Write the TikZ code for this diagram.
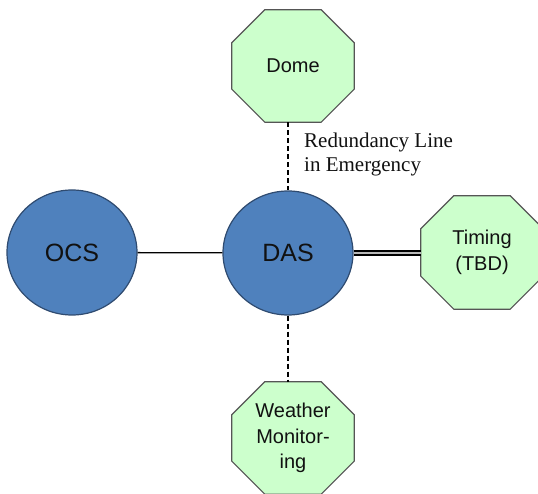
\documentclass[tikz,border=0pt]{standalone}
\usepackage{fontspec}
\setmainfont{Liberation Sans}
\newfontfamily\notefont{Liberation Serif}
\usetikzlibrary{calc,backgrounds,shapes.geometric}

\definecolor{sysblue}{HTML}{4F81BD}
\definecolor{sysedge}{HTML}{2F4B70}
\definecolor{subgreen}{HTML}{CCFFCC}
\definecolor{subedge}{HTML}{555555}
\definecolor{inktext}{HTML}{111111}

\newcommand\octcut{33pt}
% octagon outline traced from the corners of a rectangular node
\newcommand\octagonbehind[1]{%
  \begin{scope}[on background layer]
    \filldraw[octedge]
      ($(#1.north west)+(\octcut,0)$) -- ($(#1.north east)+(-\octcut,0)$) --
      ($(#1.north east)+(0,-\octcut)$) -- ($(#1.south east)+(0,\octcut)$) --
      ($(#1.south east)+(-\octcut,0)$) -- ($(#1.south west)+(\octcut,0)$) --
      ($(#1.south west)+(0,\octcut)$) -- ($(#1.north west)+(0,-\octcut)$) -- cycle;
  \end{scope}}

\tikzset{
  system/.style={ellipse, draw=sysedge, fill=sysblue, line width=1.2pt,
    minimum width=130pt, minimum height=125pt, inner sep=0pt,
    font=\fontsize{25}{28}\selectfont, text=inktext},
  subsys/.style={rectangle, minimum width=122pt, minimum height=112pt,
    inner sep=0pt, align=center, font=\fontsize{20}{25.5}\selectfont,
    text=inktext},
  octedge/.style={draw=subedge, fill=subgreen, line width=1.2pt},
  link/.style={line width=1.3pt, draw=black},
  backup/.style={line width=1.3pt, dash pattern=on 5pt off 3pt},
  timelink/.style={line width=2.4pt, double=gray!55, double distance=1.4pt},
  note/.style={inner sep=0pt, align=left, font=\notefont\fontsize{21}{24}\selectfont,
    text=inktext}
}

\begin{document}
\begin{tikzpicture}[x=1pt, y=1pt]
  \useasboundingbox (0,0) rectangle (538,494);
  \clip (0,0) rectangle (538,494);

  % main systems
  \node[system] (ocs) at (72,241.5) {OCS};
  \node[system, minimum height=124pt] (das) at (288,241) {DAS};

  % subsystems
  \node[subsys] (dome) at (293,428) {Dome};
  \octagonbehind{dome}
  \node[subsys, minimum height=113pt] (timing) at (482,241.5) {Timing\\(TBD)};
  \octagonbehind{timing}
  \node[subsys] (weather) at (293,56) {Weather\\Monitor-\\ing};
  \octagonbehind{weather}

  % connections
  \draw[link] (ocs) -- (das);
  \draw[timelink] (das.east) -- (das.east -| timing.west);
  \draw[backup] (dome.south -| das.north) -- (das.north);
  \draw[backup] (das.south) -- (das.south |- weather.north);

  % the base anchor of a two-line node sits on its last line
  \node[note, anchor=base west] (redund) at (304,322)
    {Redundancy Line\\in Emergency};
\end{tikzpicture}
\end{document}
